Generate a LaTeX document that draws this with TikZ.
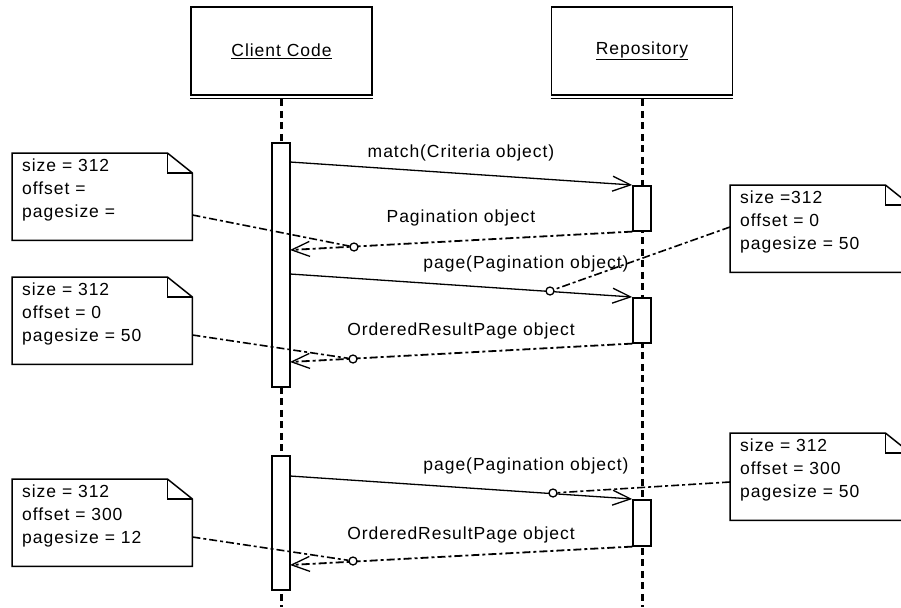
\documentclass[tikz,border=0pt]{standalone}
\usepackage{fontspec}
\setmainfont{Liberation Sans}[LetterSpace=5.5]
\usetikzlibrary{arrows.meta,positioning}

\begin{document}
\begin{tikzpicture}[x=1pt,y=-1pt]
	\tikzstyle{Life}	= [draw, line width=1.6pt, minimum width=181pt, minimum height=88pt, inner sep=0pt, font=\fontsize{17.5}{20}\selectfont]
	\tikzstyle{LifeLine}	= [line width=3pt, dash pattern=on 7pt off 4.5pt]
	\tikzstyle{Act}		= [draw, fill=white, line width=1.6pt, minimum width=18pt, inner sep=0pt, anchor=north]
	\tikzstyle{Call}	= [line width=1.3pt, -{Straight Barb[length=18pt, width=15pt, line width=1.3pt]}]
	\tikzstyle{Reply}	= [line width=1.8pt, dash pattern=on 8pt off 3pt on 3pt off 3pt, -{Straight Barb[length=18pt, width=15pt, line width=1.3pt, sep=0pt]}]
	\tikzstyle{Note}	= [minimum width=180pt, minimum height=87pt, anchor=north west, inner sep=0pt]
	\tikzstyle{NoteText}	= [anchor=north west, align=left, inner sep=0pt, font=\fontsize{17.5}{23}\selectfont]
	\tikzstyle{Anchor}	= [line width=1.6pt, dash pattern=on 8pt off 3pt on 3pt off 3pt]
	\tikzstyle{Pin}		= [circle, draw, fill=white, line width=1.3pt, minimum size=8pt, inner sep=0pt]
	\tikzstyle{Msg}		= [font=\fontsize{17.5}{20}\selectfont, inner sep=0pt]

	\useasboundingbox (0,0) rectangle (901,607);
	\clip (0,0) rectangle (901,607);

	% lifelines
	\node (client) at (281.5,51) [Life] {\underline{Client Code}};
	\node (repo) at (642,51) [Life] {\underline{Repository}};
	\draw [line width=1.2pt] ([yshift=-2.8pt]client.south west) -- ([yshift=-2.8pt]client.south east);
	\draw [line width=1.2pt] ([yshift=-2.8pt]repo.south west) -- ([yshift=-2.8pt]repo.south east);
	\coordinate (clientend) at (281.5,607);
	\coordinate (repoend) at (642,607);
	\draw [LifeLine] ([yshift=-3.5pt]client.south) -- (clientend);
	\draw [LifeLine] ([yshift=-3.5pt]repo.south) -- (repoend);

	% activations
	\node (ca1) at (281,142) [Act, minimum height=244pt] {};
	\node (ca2) at (281,455) [Act, minimum height=134pt] {};
	\node (ra1) at (642,185) [Act, minimum height=45pt] {};
	\node (ra2) at (642,297) [Act, minimum height=45pt] {};
	\node (ra3) at (642,499) [Act, minimum height=46pt] {};

	% messages
	\coordinate (m1) at (290,162);
	\coordinate (m2) at (290,250);
	\coordinate (m3) at (290,274);
	\coordinate (m4) at (290,362);
	\coordinate (m5) at (290,476);
	\coordinate (m6) at (290,565);

	\draw [Call] (m1) -- (ra1.north west);
	\draw [Reply] (ra1.south west) -- (m2);
	\draw [Call] (m3) -- (ra2.north west);
	\draw [Reply] (ra2.south west) -- (m4);
	\draw [Call] (m5) -- (ra3.north west);
	\draw [Reply] (ra3.south west) -- (m6);

	\node (l1) at (461,153) [Msg] {match(Criteria object)};
	\node (l2) at (461,218) [Msg] {Pagination object};
	\node (l3) at (526,264) [Msg] {page(Pagination object)};
	\node (l4) at (461,331) [Msg] {OrderedResultPage object};
	\node (l5) at (526,466) [Msg] {page(Pagination object)};
	\node (l6) at (461,535) [Msg] {OrderedResultPage object};

	% notes
	\node (n1) at (12,153) [Note] {};
	\node (n2) at (730,185) [Note] {};
	\node (n3) at (12,277) [Note] {};
	\node (n4) at (730,433) [Note] {};
	\node (n5) at (12,479) [Note] {};
	\foreach \n in {n1,n2,n3,n4,n5} {
		\draw [line width=1.5pt, fill=white] (\n.north west) -- ([xshift=-25pt]\n.north east) -- ([yshift=-20pt]\n.north east) -- (\n.south east) -- (\n.south west) -- cycle;
		\draw [line width=1.5pt] ([xshift=-25pt]\n.north east) |- ([yshift=-20pt]\n.north east);
	}
	\node (t1) at ([shift={(10pt,-6pt)}]n1.north west) [NoteText] {size = 312\\offset =\\pagesize =};
	\node (t2) at ([shift={(10pt,-6pt)}]n2.north west) [NoteText] {size =312\\offset = 0\\pagesize = 50};
	\node (t3) at ([shift={(10pt,-6pt)}]n3.north west) [NoteText] {size = 312\\offset = 0\\pagesize = 50};
	\node (t4) at ([shift={(10pt,-6pt)}]n4.north west) [NoteText] {size = 312\\offset = 300\\pagesize = 50};
	\node (t5) at ([shift={(10pt,-6pt)}]n5.north west) [NoteText] {size = 312\\offset = 300\\pagesize = 12};

	% note anchors
	\node (p1) at (354,247) [Pin] {};
	\node (p2) at (550,291) [Pin] {};
	\node (p3) at (353,359) [Pin] {};
	\node (p4) at (553,493) [Pin] {};
	\node (p5) at (353,561) [Pin] {};

	\draw [Anchor] ([yshift=-62pt]n1.north east) -- (p1);
	\draw [Anchor] ([yshift=-42pt]n2.north west) -- (p2);
	\draw [Anchor] ([yshift=-58pt]n3.north east) -- (p3);
	\draw [Anchor] ([yshift=-49pt]n4.north west) -- (p4);
	\draw [Anchor] ([yshift=-58pt]n5.north east) -- (p5);
\end{tikzpicture}
\end{document}
